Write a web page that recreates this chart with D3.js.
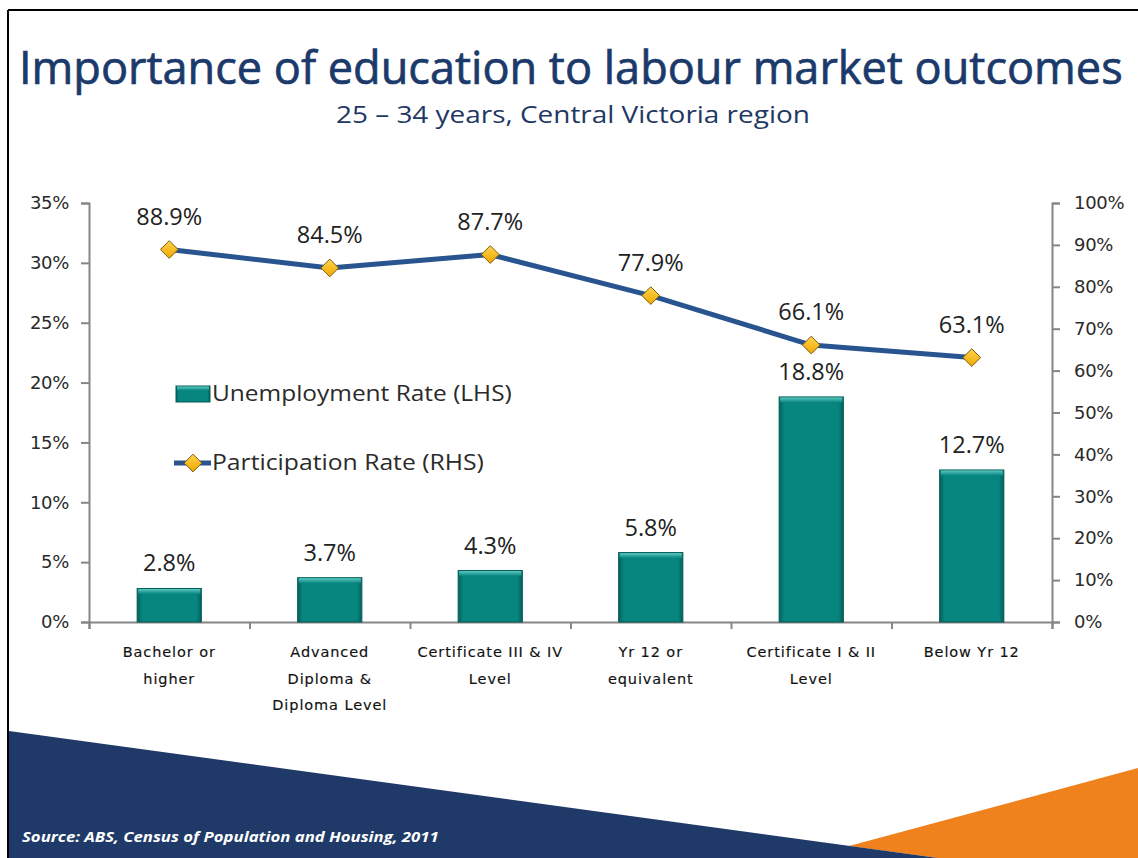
<!DOCTYPE html>
<html><head><meta charset="utf-8">
<script src="https://cdn.jsdelivr.net/npm/d3@7"></script>
<style>body{margin:0;background:#fff}svg{display:block}</style>
</head><body>
<svg id="c" width="1138" height="858"></svg>
<script>
const categories = [
  ["Bachelor or", "higher"],
  ["Advanced", "Diploma &", "Diploma Level"],
  ["Certificate III & IV", "Level"],
  ["Yr 12 or", "equivalent"],
  ["Certificate I & II", "Level"],
  ["Below Yr 12"]
];
const unemployment = [2.8, 3.7, 4.3, 5.8, 18.8, 12.7];
const participation = [88.9, 84.5, 87.7, 77.9, 66.1, 63.1];
const leftTicks = [0, 5, 10, 15, 20, 25, 30, 35];
const rightTicks = [0, 10, 20, 30, 40, 50, 60, 70, 80, 90, 100];
const titleText = "Importance of education to labour market outcomes";
const subtitleText = "25 \u2013 34 years, Central Victoria region";
const legendLabels = ["Unemployment Rate (LHS)", "Participation Rate (RHS)"];
const sourceText = "Source: ABS, Census of Population and Housing,  2011";

(function(){
const svg = d3.select("#c");
const W = 1138, H = 858;
const pL = 89, pR = 1052, pB = 622, pT = 203;
const idx = d3.range(categories.length);

// place a text at (x, y) and squeeze it horizontally to a given width
function fitText(sel, x0, y0, width) {
  sel.attr("x", 0).attr("y", 0);
  const w = sel.node().getComputedTextLength();
  const s = width / w;
  sel.attr("transform", `translate(${x0},${y0}) scale(${s},1)`);
  return sel;
}

const defs = svg.append("defs");
const bg = defs.append("linearGradient").attr("id","barTop").attr("x1",0).attr("y1",0).attr("x2",0).attr("y2",1);
bg.append("stop").attr("offset","0").attr("stop-color","#5cc8c1");
bg.append("stop").attr("offset","1").attr("stop-color","#07857f");
const bs = defs.append("linearGradient").attr("id","barSide").attr("x1",0).attr("y1",0).attr("x2",1).attr("y2",0);
bs.append("stop").attr("offset","0").attr("stop-color","#04605b");
bs.append("stop").attr("offset","0.08").attr("stop-color","#07867f");
bs.append("stop").attr("offset","0.92").attr("stop-color","#07867f");
bs.append("stop").attr("offset","1").attr("stop-color","#04605b");
const dg = defs.append("linearGradient").attr("id","dia").attr("x1",0).attr("y1",0).attr("x2",0).attr("y2",1);
dg.append("stop").attr("offset","0").attr("stop-color","#ffd34d");
dg.append("stop").attr("offset","1").attr("stop-color","#f0a800");

// frame
svg.append("line").attr("x1",8).attr("x2",W).attr("y1",10).attr("y2",10).attr("stroke","#000").attr("stroke-width",2);
svg.append("line").attr("x1",8).attr("x2",8).attr("y1",10).attr("y2",H).attr("stroke","#000").attr("stroke-width",2);

// bottom decorations
svg.append("polygon").attr("points","849,846 1138,768 1138,858 938,858").attr("fill","#f0821e");
svg.append("polygon").attr("points","9,731 938,858 9,858").attr("fill","#1f3a68");
fitText(svg.append("text").attr("fill","#fff").attr("font-family","Open Sans, sans-serif")
  .attr("font-style","italic").attr("font-weight","bold").attr("font-size",13.5).text(sourceText), 22, 842, 417);

// titles
fitText(svg.append("text").attr("fill","#1b3a6b").attr("stroke","#1b3a6b").attr("stroke-width",0.7)
  .attr("font-family","Open Sans, sans-serif").attr("font-size",46).text(titleText), 19, 84, 1104);
fitText(svg.append("text").attr("fill","#1f3864").attr("font-family","Open Sans, sans-serif")
  .attr("font-size",23).text(subtitleText), 336, 123, 474);

// scales
const x = d3.scaleBand().domain(idx).range([pL, pR]).paddingInner(0.6).paddingOuter(0.3);
const xb = d3.scaleLinear().domain([0, categories.length]).range([pL, pR]);
const yL = d3.scaleLinear().domain([0, 35]).range([pB, pT]);
const yR = d3.scaleLinear().domain([0, 100]).range([pB, pT]);
const cx = i => x(i) + x.bandwidth()/2;

const axisStyle = g => {
  g.select(".domain").attr("stroke","#868686").attr("stroke-width",2);
  g.selectAll(".tick line").attr("stroke","#868686").attr("stroke-width",2);
  g.selectAll("text").attr("font-family","DejaVu Sans, sans-serif").attr("font-size",18).attr("fill","#2a2a2a")
    .attr("letter-spacing", -0.3);
};
svg.append("g").attr("transform",`translate(${pL},0)`)
  .call(d3.axisLeft(yL).tickValues(leftTicks).tickSize(8).tickPadding(12).tickFormat(d => d + "%"))
  .call(axisStyle);
svg.append("g").attr("transform",`translate(${pR},0)`)
  .call(d3.axisRight(yR).tickValues(rightTicks).tickSize(8).tickPadding(14).tickFormat(d => d + "%"))
  .call(axisStyle);
svg.append("g").attr("transform",`translate(0,${pB})`)
  .call(d3.axisBottom(xb).tickValues(d3.range(categories.length + 1)).tickSize(7).tickFormat(""))
  .call(axisStyle);

// category labels
const cl = svg.append("g").attr("font-family","DejaVu Sans, sans-serif").attr("font-size",14.5)
  .attr("fill","#111").attr("stroke","#111").attr("stroke-width",0.15).attr("letter-spacing",0.9).attr("text-anchor","middle");
categories.forEach((lines, i) => {
  lines.forEach((t, j) => {
    cl.append("text").attr("x", cx(i)).attr("y", 657 + j*26.5).text(t);
  });
});

// bars
const bars = svg.append("g");
bars.selectAll("rect.b").data(unemployment).join("rect").attr("class","b")
  .attr("x",(d,i)=>x(i)).attr("width",x.bandwidth())
  .attr("y",d=>yL(d)).attr("height",d=>pB - yL(d))
  .attr("fill","url(#barSide)").attr("stroke","#055b56").attr("stroke-width",1);
bars.selectAll("rect.h").data(unemployment).join("rect").attr("class","h")
  .attr("x",(d,i)=>x(i)+1).attr("width",x.bandwidth()-2)
  .attr("y",d=>yL(d)+0.5).attr("height",5).attr("fill","url(#barTop)");

const labelFont = "Open Sans, sans-serif";
svg.append("g").selectAll("text").data(unemployment).join("text")
  .attr("x",(d,i)=>cx(i)).attr("y",d=>yL(d) - 17).attr("text-anchor","middle")
  .attr("font-family",labelFont).attr("font-size",23.5).attr("fill","#222")
  .text(d => d.toFixed(1) + "%");

// line
const line = d3.line().x((d,i)=>cx(i)).y(d=>yR(d));
svg.append("path").datum(participation).attr("d",line).attr("fill","none")
  .attr("stroke","#28548f").attr("stroke-width",5).attr("stroke-linejoin","round");
const diamond = d3.symbol().type(d3.symbolDiamond2).size(200);
svg.append("g").selectAll("path").data(participation).join("path")
  .attr("transform",(d,i)=>`translate(${cx(i)},${yR(d)})`).attr("d",diamond)
  .attr("fill","url(#dia)").attr("stroke","#7a5c10").attr("stroke-width",1);
svg.append("g").selectAll("text").data(participation).join("text")
  .attr("x",(d,i)=>cx(i)).attr("y",d=>yR(d) - 25).attr("text-anchor","middle")
  .attr("font-family",labelFont).attr("font-size",23.5).attr("fill","#222")
  .text(d => d.toFixed(1) + "%");

// legend
const lg = svg.append("g");
lg.append("rect").attr("x",176).attr("y",386).attr("width",34).attr("height",16).attr("fill","url(#barSide)").attr("stroke","#055b56");
lg.append("rect").attr("x",177).attr("y",386.5).attr("width",32).attr("height",4).attr("fill","url(#barTop)");
fitText(lg.append("text").attr("font-family",labelFont).attr("font-size",21).attr("fill","#2a2a2a")
  .text(legendLabels[0]), 212, 401, 300);
lg.append("line").attr("x1",174).attr("x2",211).attr("y1",463).attr("y2",463).attr("stroke","#28548f").attr("stroke-width",5);
lg.append("path").attr("transform","translate(193,463)").attr("d",diamond).attr("fill","url(#dia)").attr("stroke","#7a5c10");
fitText(lg.append("text").attr("font-family",labelFont).attr("font-size",21).attr("fill","#2a2a2a")
  .text(legendLabels[1]), 212, 470, 272);
})();
</script>
</body></html>
